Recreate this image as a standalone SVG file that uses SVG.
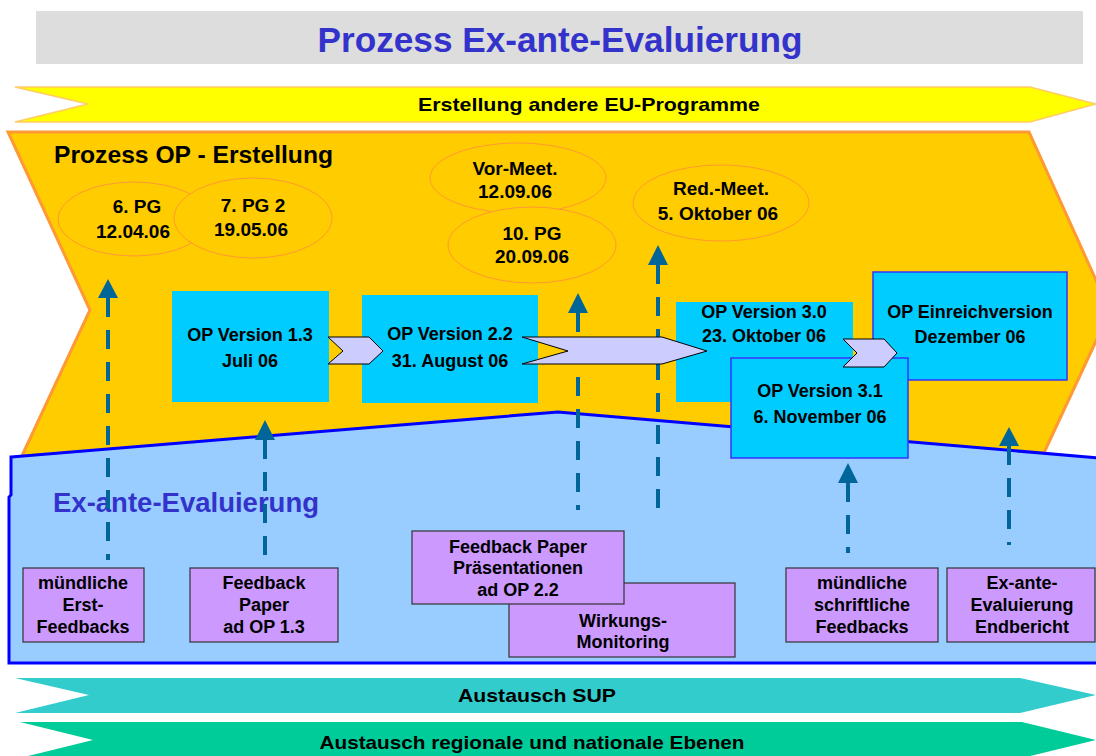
<svg xmlns="http://www.w3.org/2000/svg" width="1096" height="756" viewBox="0 0 1096 756">
<style>
text{font-family:"Liberation Sans",Arial,sans-serif;font-weight:bold;fill:#000;text-anchor:middle}
.ell{fill:#FFCC00;stroke:#FF9933;stroke-width:1}
.et{font-size:19px}
.cy{fill:#00CCFF}
.cyb{fill:#00CCFF;stroke:#3333FF;stroke-width:1.5}
.ct{font-size:18px}
.pu{fill:#CC99FF;stroke:#333333;stroke-width:1.2}
.pt{font-size:18px}
.dash{stroke:#006699;stroke-width:4;stroke-dasharray:19 13;fill:none}
.head{fill:#006699}
.chev{fill:#CCCCFF;stroke:#000;stroke-width:1}
.band{font-size:19px}
</style>
<rect width="1096" height="756" fill="#FFFFFF"/>
<g id="title">
<rect x="36" y="11" width="1047" height="53" fill="#DDDDDD"/>
<text x="560" y="52" style="font-size:35px;fill:#3333CC" textLength="485" lengthAdjust="spacingAndGlyphs">Prozess Ex-ante-Evaluierung</text>
</g>
<g id="band-eu">
<polygon points="15,87 1030,87 1096,104 1030,122 15,122 88,104" fill="#FFFF00" stroke="#FFCC66" stroke-width="1.5"/>
<text class="band" x="589" y="111" textLength="342" lengthAdjust="spacingAndGlyphs">Erstellung andere EU-Programme</text>
</g>
<g id="op-erstellung">
<polygon points="8,132 1029,132 1110,311 1043,455 20,460 90,310" fill="#FFCC00" stroke="#FF9933" stroke-width="3"/>
<text x="54" y="163" style="font-size:24px;text-anchor:start" textLength="279" lengthAdjust="spacingAndGlyphs">Prozess OP - Erstellung</text>
</g>
<g id="ex-ante">
<polygon points="11,457 558,412 1100,458 1100,663 9,663 9,497 11,495" fill="#99CCFF" stroke="#0000FF" stroke-width="3"/>
<text x="53" y="512" style="font-size:27px;text-anchor:start;fill:#3333CC" textLength="266" lengthAdjust="spacingAndGlyphs">Ex-ante-Evaluierung</text>
</g>
<g id="pg6">
<ellipse class="ell" cx="134" cy="219" rx="76" ry="37"/>
<text class="et" x="137" y="213">6. PG</text>
<text class="et" x="133" y="238">12.04.06</text>
</g>
<g id="pg7">
<ellipse class="ell" cx="253" cy="218" rx="79" ry="40"/>
<text class="et" x="253" y="212">7. PG 2</text>
<text class="et" x="251" y="236">19.05.06</text>
</g>
<g id="vormeet">
<ellipse class="ell" cx="518" cy="178" rx="88" ry="35"/>
<text class="et" x="515" y="175">Vor-Meet.</text>
<text class="et" x="515" y="198">12.09.06</text>
</g>
<g id="pg10">
<ellipse class="ell" cx="532" cy="245" rx="84" ry="38"/>
<text class="et" x="532" y="240">10. PG</text>
<text class="et" x="532" y="263">20.09.06</text>
</g>
<g id="redmeet">
<ellipse class="ell" cx="721" cy="203" rx="88" ry="38"/>
<text class="et" x="721" y="195">Red.-Meet.</text>
<text class="et" x="718" y="220">5. Oktober 06</text>
</g>
<g id="op13">
<rect class="cy" x="172" y="291" width="157" height="111"/>
<text class="ct" x="250" y="341">OP Version 1.3</text>
<text class="ct" x="250" y="367">Juli 06</text>
</g>
<g id="op22">
<rect class="cy" x="362" y="295" width="176" height="108"/>
<text class="ct" x="450" y="340">OP Version 2.2</text>
<text class="ct" x="450" y="367">31. August 06</text>
</g>
<g id="op30">
<rect class="cy" x="676" y="302" width="177" height="100"/>
<text class="ct" x="764" y="318">OP Version 3.0</text>
<text class="ct" x="764" y="342">23. Oktober 06</text>
</g>
<g id="einreich">
<rect class="cyb" x="873" y="272" width="194" height="108"/>
<text class="ct" x="970" y="318">OP Einreichversion</text>
<text class="ct" x="970" y="343">Dezember 06</text>
</g>
<g id="op31">
<rect class="cyb" x="731" y="358" width="177" height="100"/>
<text class="ct" x="820" y="397">OP Version 3.1</text>
<text class="ct" x="820" y="423">6. November 06</text>
</g>
<g id="fb-erst">
<rect class="pu" x="23" y="568" width="121" height="74"/>
<text class="pt" x="83" y="589">mündliche</text>
<text class="pt" x="83" y="611">Erst-</text>
<text class="pt" x="83" y="633">Feedbacks</text>
</g>
<g id="fb-13">
<rect class="pu" x="190" y="568" width="148" height="74"/>
<text class="pt" x="264" y="589">Feedback</text>
<text class="pt" x="264" y="611">Paper</text>
<text class="pt" x="264" y="633">ad OP 1.3</text>
</g>
<g id="wirkung">
<rect class="pu" x="509" y="583" width="226" height="74"/>
<text class="pt" x="623" y="627">Wirkungs-</text>
<text class="pt" x="623" y="648">Monitoring</text>
</g>
<g id="fb-22">
<rect class="pu" x="412" y="531" width="212" height="73"/>
<text class="pt" x="518" y="553">Feedback Paper</text>
<text class="pt" x="518" y="574">Präsentationen</text>
<text class="pt" x="518" y="596">ad OP 2.2</text>
</g>
<g id="fb-ms">
<rect class="pu" x="786" y="568" width="152" height="74"/>
<text class="pt" x="862" y="589">mündliche</text>
<text class="pt" x="862" y="611">schriftliche</text>
<text class="pt" x="862" y="633">Feedbacks</text>
</g>
<g id="endbericht">
<rect class="pu" x="947" y="568" width="148" height="74"/>
<text class="pt" x="1022" y="589">Ex-ante-</text>
<text class="pt" x="1022" y="611">Evaluierung</text>
<text class="pt" x="1022" y="633">Endbericht</text>
</g>
<g id="connectors">
<line class="dash" x1="108" y1="298" x2="108" y2="560"/>
<polygon class="head" points="108,279 98,298 118,298"/>
<line class="dash" x1="265" y1="440" x2="265" y2="555"/>
<polygon class="head" points="265,420 255,440 275,440"/>
<line class="dash" x1="578" y1="313" x2="578" y2="510"/>
<polygon class="head" points="578,293 568,313 588,313"/>
<line class="dash" x1="658" y1="265" x2="658" y2="508"/>
<polygon class="head" points="658,245 648,265 668,265"/>
<line class="dash" x1="848" y1="483" x2="848" y2="553"/>
<polygon class="head" points="848,463 838,483 858,483"/>
<line class="dash" x1="1009" y1="446" x2="1009" y2="545"/>
<polygon class="head" points="1009,427 999,446 1019,446"/>
<polygon class="chev" points="328,337 369,337 383,351 369,364 328,364 343,351"/>
<polygon class="chev" points="522,337 662,337 707,351 662,364 522,364 568,351"/>
<polygon class="chev" points="843,339 884,339 897,353 884,367 843,367 857,353"/>
</g>
<g id="band-sup">
<polygon points="15,678 1020,678 1096,695 1020,713 15,713 89,695" fill="#33CCCC"/>
<text class="band" x="537" y="702" textLength="158" lengthAdjust="spacingAndGlyphs">Austausch SUP</text>
</g>
<g id="band-regional">
<polygon points="20,722 1022,722 1096,740 1022,758 20,758 93,740" fill="#00CC99"/>
<text class="band" x="532" y="749" textLength="425" lengthAdjust="spacingAndGlyphs">Austausch regionale und nationale Ebenen</text>
</g>
</svg>
